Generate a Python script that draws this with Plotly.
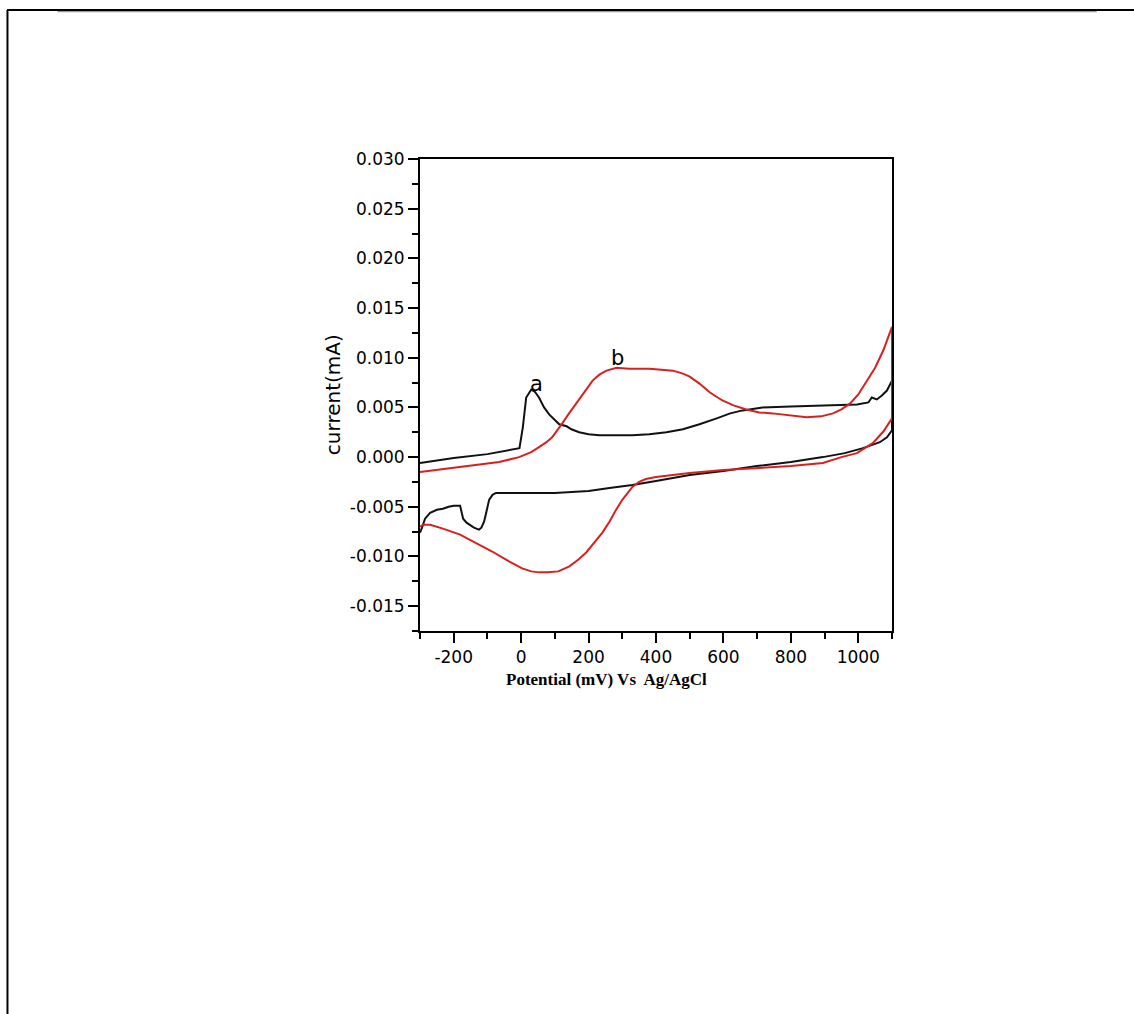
import plotly.graph_objects as go

# ---- data ----
# curve a (black) forward scan
a_fwd_x = [-300, -200, -100, -30, -5, 5, 15, 30, 40, 53, 68, 83, 100, 113, 135, 149, 172, 200, 232,
           280, 330, 380, 431, 480, 529, 580, 620, 657, 716, 800, 895, 996, 1030, 1040, 1055, 1070, 1085, 1100]
a_fwd_y = [-0.0006, -0.0001, 0.0003, 0.0007, 0.0009, 0.0030, 0.0060, 0.0068, 0.0066, 0.0060, 0.0050, 0.0043,
           0.0037, 0.0033, 0.0031, 0.0028, 0.0025, 0.0023, 0.0022, 0.0022, 0.0022, 0.0023, 0.0025, 0.0028,
           0.0033, 0.0039, 0.0044, 0.0047, 0.0050, 0.0051, 0.0052, 0.0053, 0.0055, 0.0060, 0.0058, 0.0062,
           0.0067, 0.0077]
# curve a (black) reverse scan
a_rev_x = [1100, 1085, 1064, 1040, 1014, 960, 895, 800, 699, 600, 500, 400, 330, 262, 200, 150, 100, 50, 0,
           -50, -75, -85, -95, -105, -110, -118, -125, -140, -152, -162, -172, -178, -181, -200, -215, -232,
           -250, -270, -285, -294, -300]
a_rev_y = [0.0027, 0.0020, 0.0015, 0.0012, 0.0009, 0.0004, 0.0000, -0.0005, -0.0009, -0.0014, -0.0018,
           -0.0024, -0.0028, -0.0031, -0.0034, -0.0035, -0.0036, -0.0036, -0.0036, -0.0036, -0.0036,
           -0.0038, -0.0043, -0.0058, -0.0065, -0.0071, -0.0073, -0.0071, -0.0068, -0.0066, -0.0062,
           -0.0052, -0.0049, -0.0049, -0.0050, -0.0052, -0.0053, -0.0056, -0.0062, -0.0071, -0.0076]
# curve b (red) forward scan
b_fwd_x = [-300, -200, -100, -65, -6, 30, 53, 75, 92, 110, 122, 140, 164, 190, 212, 232, 253, 283, 320, 381,
           420, 450, 480, 500, 529, 560, 597, 630, 668, 706, 746, 800, 847, 890, 925, 950, 976, 1000, 1026,
           1050, 1075, 1100]
b_fwd_y = [-0.0015, -0.0011, -0.0007, -0.0005, 0.0000, 0.0005, 0.0010, 0.0015, 0.0020, 0.0028, 0.0034,
           0.0043, 0.0054, 0.0066, 0.0077, 0.0083, 0.0087, 0.0090, 0.0089, 0.0089, 0.0088, 0.0087, 0.0084,
           0.0081, 0.0074, 0.0065, 0.0057, 0.0052, 0.0048, 0.0045, 0.0044, 0.0042, 0.0040, 0.0041, 0.0044,
           0.0048, 0.0054, 0.0063, 0.0077, 0.0090, 0.0108, 0.0131]
# curve b (red) reverse scan
b_rev_x = [1100, 1075, 1043, 1020, 996, 950, 895, 800, 699, 600, 500, 440, 400, 370, 350, 330, 312, 300, 280,
           262, 241, 220, 193, 170, 143, 110, 80, 53, 30, 3, -36, -86, -134, -181, -232, -270, -290, -300]
b_rev_y = [0.0039, 0.0026, 0.0014, 0.0009, 0.0004, 0.0000, -0.0006, -0.0009, -0.0011, -0.0013, -0.0016,
           -0.0018, -0.0020, -0.0022, -0.0025, -0.0030, -0.0038, -0.0043, -0.0054, -0.0065, -0.0076,
           -0.0085, -0.0096, -0.0103, -0.0110, -0.0115, -0.0116, -0.0116, -0.0115, -0.0112, -0.0105,
           -0.0095, -0.0086, -0.0078, -0.0072, -0.0068, -0.0068, -0.0070]

x_tickvals = [-200, 0, 200, 400, 600, 800, 1000]
x_ticktext = ["-200", "0", "200", "400", "600", "800", "1000"]
x_minor = [-300, -100, 100, 300, 500, 700, 900, 1100]
y_tickvals = [-0.015, -0.010, -0.005, 0.000, 0.005, 0.010, 0.015, 0.020, 0.025, 0.030]
y_ticktext = ["-0.015", "-0.010", "-0.005", "0.000", "0.005", "0.010", "0.015", "0.020", "0.025", "0.030"]
y_minor = [-0.0175, -0.0125, -0.0075, -0.0025, 0.0025, 0.0075, 0.0125, 0.0175, 0.0225, 0.0275]

BLACK = "#111111"
RED = "#d7201f"

fig = go.Figure()
fig.add_trace(go.Scatter(x=a_fwd_x + a_rev_x, y=a_fwd_y + a_rev_y, mode="lines",
                         line=dict(color=BLACK, width=2), showlegend=False))
fig.add_trace(go.Scatter(x=b_fwd_x + b_rev_x, y=b_fwd_y + b_rev_y, mode="lines",
                         line=dict(color=RED, width=2), showlegend=False))

tick_font = dict(family="DejaVu Sans", size=17, color="black")

fig.update_xaxes(range=[-300, 1100], tickmode="array", tickvals=x_tickvals, ticktext=x_ticktext,
                 ticks="outside", ticklen=10, tickwidth=2, tickcolor="black",
                 minor=dict(tickmode="array", tickvals=x_minor, ticks="outside", ticklen=6,
                            tickwidth=2, tickcolor="black"),
                 showline=True, linewidth=2, linecolor="black", mirror=True,
                 showgrid=False, zeroline=False, tickfont=tick_font)
fig.update_yaxes(range=[-0.0175, 0.030], tickmode="array", tickvals=y_tickvals, ticktext=y_ticktext,
                 ticks="outside", ticklen=10, tickwidth=2, tickcolor="black",
                 minor=dict(tickmode="array", tickvals=y_minor, ticks="outside", ticklen=6,
                            tickwidth=2, tickcolor="black"),
                 showline=True, linewidth=2, linecolor="black", mirror=True,
                 showgrid=False, zeroline=False, tickfont=tick_font)

annotations = [
    dict(text="current(mA)", x=-0.184, y=0.5, xref="paper", yref="paper", textangle=-90,
         showarrow=False, xanchor="center", yanchor="middle",
         font=dict(family="DejaVu Sans", size=20, color="black")),
    dict(text="<b>Potential (mV) Vs  Ag/AgCl</b>", x=0.396, y=-0.1017, xref="paper", yref="paper",
         showarrow=False, xanchor="center", yanchor="middle",
         font=dict(family="Liberation Serif", size=17, color="black")),
    dict(text="a", x=47, y=0.0074, xref="x", yref="y", showarrow=False,
         font=dict(family="DejaVu Sans", size=21, color="black")),
    dict(text="b", x=287, y=0.0100, xref="x", yref="y", showarrow=False,
         font=dict(family="DejaVu Sans", size=21, color="black")),
]

shapes = [
    dict(type="line", xref="paper", yref="paper", x0=-0.768, x1=1.434, y0=1.3125, y1=1.3125,
         line=dict(color="#9a9a9a", width=1.5)),
    dict(type="line", xref="paper", yref="paper", x0=-0.875, x1=1.513, y0=1.3157, y1=1.3157,
         line=dict(color="black", width=2)),
    dict(type="line", xref="paper", yref="paper", x0=-0.874, x1=-0.874, y0=1.3157, y1=-0.82,
         line=dict(color="black", width=2)),
]

fig.update_layout(width=1134, height=1014, margin=dict(l=420, r=242, t=159, b=383),
                  paper_bgcolor="white", plot_bgcolor="white",
                  annotations=annotations, shapes=shapes)

fig.write_html("out.html")
